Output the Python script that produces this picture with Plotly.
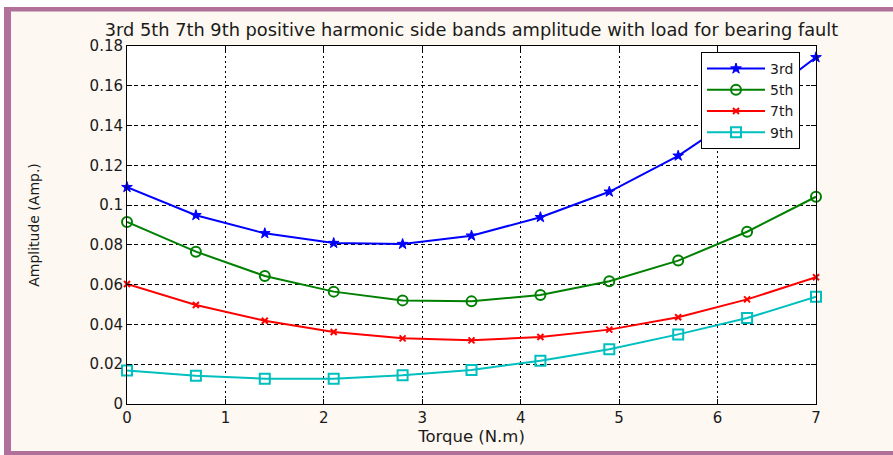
import plotly.graph_objects as go

torque = [0, 0.7, 1.4, 2.1, 2.8, 3.5, 4.2, 4.9, 5.6, 6.3, 7.0]
h3 = [0.1090, 0.0949, 0.0858, 0.0809, 0.0804, 0.0846, 0.0939, 0.1067, 0.1248, 0.1480, 0.1743]
h5 = [0.0915, 0.0766, 0.0644, 0.0565, 0.0521, 0.0516, 0.0548, 0.0617, 0.0721, 0.0866, 0.1042]
h7 = [0.0603, 0.0498, 0.0419, 0.0362, 0.0330, 0.0320, 0.0337, 0.0374, 0.0436, 0.0526, 0.0637]
h9 = [0.0169, 0.0142, 0.0127, 0.0127, 0.0144, 0.0171, 0.0218, 0.0275, 0.0350, 0.0432, 0.0539]
names = ["3rd", "5th", "7th", "9th"]
colors = ["#0000ff", "#008000", "#ff0000", "#00bfbf"]
symbols = ["star", "circle-open", "x-thin-open", "square-open"]
sizes = [8, 10, 6, 10]

W, H = 893, 455
L, R, T, B = 127, 816, 46, 404
PW, PH = R - L, B - T

def px_x(p):
    return (p - L) / PW

def px_y(p):
    return (B - p) / PH

fig = go.Figure()
for name, ys, c, s, sz in zip(names, [h3, h5, h7, h9], colors, symbols, sizes):
    fig.add_trace(go.Scatter(
        x=torque, y=ys, name=name, mode="lines+markers",
        line=dict(color=c, width=2),
        marker=dict(symbol=s, size=sz, color=c, line=dict(color=c, width=2 if s != "star" else 1)),
        cliponaxis=False,
    ))

cream = "#fdf8f1"
purple = "#b0709a"
shapes = [
    dict(type="rect", xref="paper", yref="paper", x0=px_x(-5), x1=px_x(W + 5), y0=px_y(7), y1=px_y(-5),
         fillcolor="white", line_width=0, layer="below"),
    dict(type="rect", xref="paper", yref="paper", x0=px_x(-5), x1=px_x(4), y0=px_y(H + 5), y1=px_y(-5),
         fillcolor="white", line_width=0, layer="below"),
    dict(type="rect", xref="paper", yref="paper", x0=px_x(4), x1=px_x(W + 5), y0=px_y(11.5), y1=px_y(7),
         fillcolor=purple, line_width=0, layer="below"),
    dict(type="rect", xref="paper", yref="paper", x0=px_x(4), x1=px_x(11), y0=px_y(H + 5), y1=px_y(7),
         fillcolor=purple, line_width=0, layer="below"),
    dict(type="rect", xref="paper", yref="paper", x0=px_x(4), x1=px_x(W + 5), y0=px_y(H + 5), y1=px_y(451),
         fillcolor=purple, line_width=0, layer="below"),
]

font = "DejaVu Sans"
txt = "#1a1a1a"
fig.update_layout(
    width=W, height=H,
    margin=dict(l=L, r=W - R, t=T, b=H - B, pad=0),
    paper_bgcolor=cream, plot_bgcolor="white",
    shapes=shapes,
    title=dict(text="3rd 5th 7th 9th positive harmonic side bands amplitude with load for bearing fault",
               font=dict(family=font, size=17.8, color=txt),
               x=0.5, xref="paper", xanchor="center",
               y=1 - 30 / H, yref="container", yanchor="middle"),
    font=dict(family=font, color=txt),
    legend=dict(x=px_x(701), y=px_y(52), xanchor="left", yanchor="top",
                bgcolor="white", bordercolor="black", borderwidth=1,
                font=dict(family=font, size=14, color=txt),
                tracegroupgap=0, itemwidth=58),
    xaxis=dict(range=[0, 7], dtick=1, tick0=0,
               showline=True, linecolor="black", linewidth=1, mirror="ticks",
               ticks="inside", ticklen=5, tickcolor="black",
               showgrid=True, gridcolor="black", gridwidth=1, griddash="2px,3px",
               zeroline=False,
               tickfont=dict(family=font, size=15, color=txt),
               title=dict(text="Torque (N.m)", font=dict(family=font, size=16.5, color=txt), standoff=4)),
    yaxis=dict(range=[0, 0.18], dtick=0.02, tick0=0,
               showline=True, linecolor="black", linewidth=1, mirror="ticks",
               ticks="inside", ticklen=5, tickcolor="black",
               showgrid=True, gridcolor="black", gridwidth=1, griddash="4px,3px",
               zeroline=False,
               tickfont=dict(family=font, size=15, color=txt),
               title=dict(text="Amplitude (Amp.)", font=dict(family=font, size=14, color=txt), standoff=46)),
)

fig.write_html("out.html", config={"displayModeBar": False},
               post_script="document.body.style.margin='0';document.body.style.padding='0';")
